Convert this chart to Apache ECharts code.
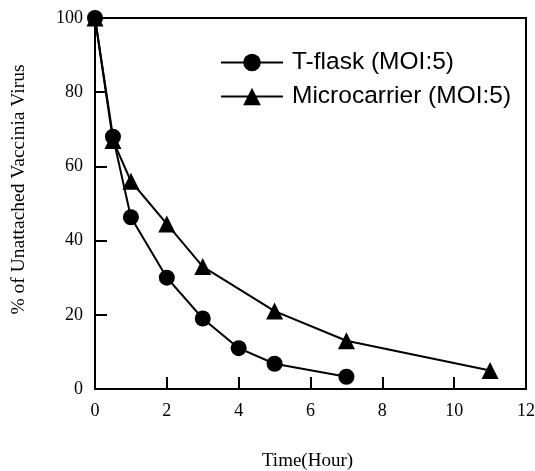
<!DOCTYPE html>
<html><head><meta charset="utf-8">
<script src="https://cdn.jsdelivr.net/npm/echarts@6/dist/echarts.min.js"></script>
<style>html,body{margin:0;padding:0;background:#fff}#c{width:535px;height:471px}</style>
</head><body><div id="c"></div>
<script>
const tflaskX = [0, 0.5, 1, 2, 3, 4, 5, 7];
const tflaskY = [100, 68, 46.3, 30, 19, 11, 6.8, 3.3];
const microX = [0, 0.5, 1, 2, 3, 5, 7, 11];
const microY = [100, 67, 56, 44.5, 33, 21, 13, 5];
const xTicks = [0, 2, 4, 6, 8, 10, 12];
const yTicks = [0, 20, 40, 60, 80, 100];
const seriesNames = ['T-flask (MOI:5)', 'Microcarrier (MOI:5)'];

const chart = echarts.init(document.getElementById('c'), null, {renderer: 'canvas'});
const serif = 'Liberation Serif';
const toPairs = (xs, ys) => xs.map((x, i) => [x, ys[i]]);
chart.setOption({
  animation: false,
  backgroundColor: '#fff',
  grid: {left: 95, right: 9, top: 18, bottom: 82, show: true, borderColor: '#000', borderWidth: 2,
         containLabel: false, outerBoundsMode: 'none'},
  legend: {
    orient: 'vertical', left: 220, top: 50, padding: 0, itemGap: 9, itemWidth: 62, itemHeight: 22,
    textStyle: {fontFamily: 'Liberation Sans', fontSize: 24.5, color: '#000', padding: [0, 0, 0, 4]},
    data: seriesNames
  },
  xAxis: {
    type: 'value', min: xTicks[0], max: xTicks[xTicks.length - 1], interval: 2,
    name: 'Time(Hour)', nameLocation: 'middle', nameGap: 63,
    nameTextStyle: {fontFamily: serif, fontSize: 19, color: '#000', padding: [0, 6, 0, 0]},
    axisLine: {lineStyle: {color: '#000', width: 2}},
    axisTick: {inside: true, length: 12, lineStyle: {color: '#000', width: 2}},
    axisLabel: {fontFamily: serif, fontSize: 18, color: '#000', margin: 13},
    splitLine: {show: false}
  },
  yAxis: {
    type: 'value', min: yTicks[0], max: yTicks[yTicks.length - 1], interval: 20,
    name: '% of Unattached Vaccinia Virus', nameLocation: 'middle', nameGap: 66, nameRotate: 90,
    nameTextStyle: {fontFamily: serif, fontSize: 19.5, color: '#000', padding: [0, 0, 0, 28]},
    axisLine: {lineStyle: {color: '#000', width: 2}},
    axisTick: {inside: true, length: 12, lineStyle: {color: '#000', width: 2}},
    axisLabel: {fontFamily: serif, fontSize: 18, color: '#000', margin: 12},
    splitLine: {show: false}
  },
  series: [
    {name: seriesNames[0], type: 'line', data: toPairs(tflaskX, tflaskY), symbol: 'circle', symbolSize: 16,
     lineStyle: {color: '#000', width: 2}, itemStyle: {color: '#000'}, z: 3},
    {name: seriesNames[1], type: 'line', data: toPairs(microX, microY), symbol: 'triangle', symbolSize: 17,
     lineStyle: {color: '#000', width: 2}, itemStyle: {color: '#000'}, z: 2}
  ]
});
</script></body></html>
